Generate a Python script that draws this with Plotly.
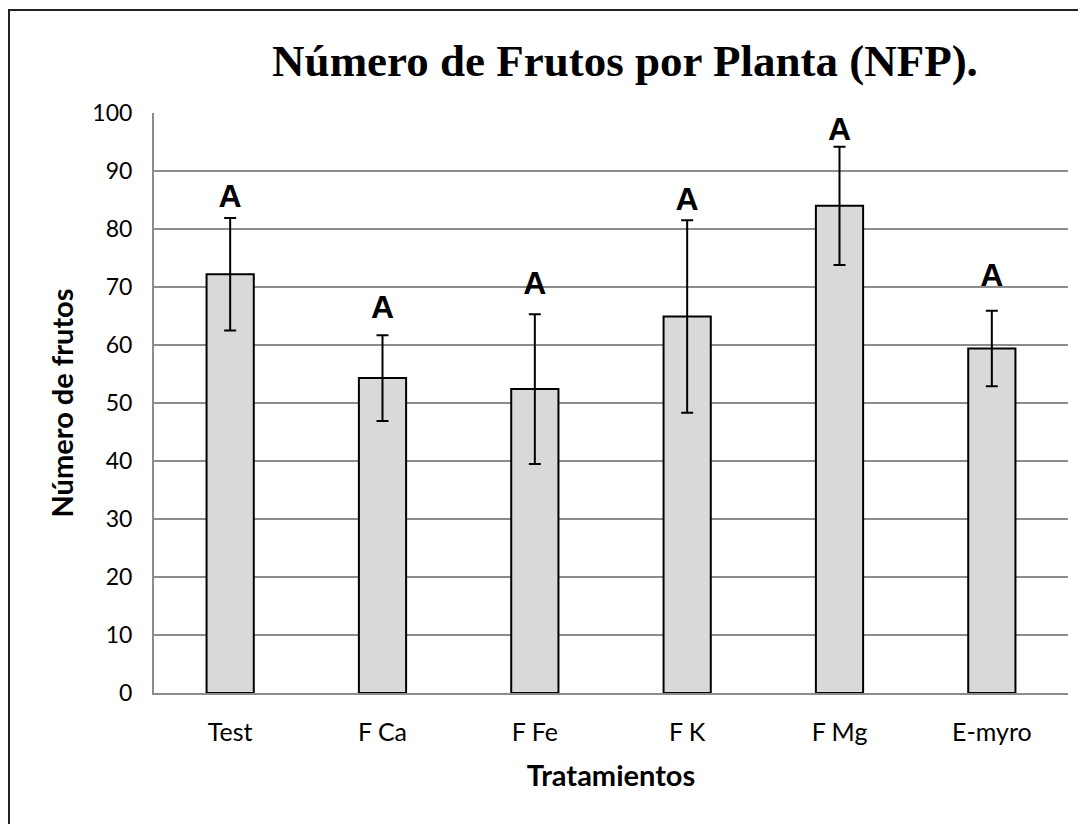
import plotly.graph_objects as go

categories = ["Test", "F Ca", "F Fe", "F K", "F Mg", "E-myro"]
means = [72.2, 54.3, 52.4, 64.9, 84.0, 59.4]
errors = [9.7, 7.4, 12.9, 16.6, 10.2, 6.5]
letters = ["A", "A", "A", "A", "A", "A"]
letter_y = [85.2, 66.0, 70.2, 84.7, 96.8, 71.5]
y_ticks = [0, 10, 20, 30, 40, 50, 60, 70, 80, 90, 100]

W, H = 1086, 824
ml, mr, mt, mb = 146, 26, 105, 139
pw, ph = W - ml - mr, H - mt - mb

def px_x(x):
    return (x - ml) / pw

def px_y(y):
    return (H - mb - y) / ph

sans = "Lato, 'Open Sans', sans-serif"

fig = go.Figure()
fig.add_trace(go.Bar(
    x=categories, y=means,
    marker=dict(color="#d9d9d9", line=dict(color="#000000", width=2)),
    width=0.31,
    error_y=dict(type="data", array=errors, visible=True, color="#000000", thickness=2, width=6),
    showlegend=False,
))
fig.add_trace(go.Scatter(
    x=categories, y=letter_y, mode="text", text=letters,
    textfont=dict(family="'Liberation Sans', Arial, sans-serif", size=32, color="#000000"),
    texttemplate="<b>%{text}</b>",
    showlegend=False, hoverinfo="skip",
))

fig.update_layout(
    width=W, height=H,
    margin=dict(l=ml, r=mr, t=mt, b=mb),
    paper_bgcolor="white", plot_bgcolor="white",
    title=dict(text="<b>Número de Frutos por Planta (NFP).</b>",
               font=dict(family="'Liberation Serif', 'Times New Roman', serif", size=45, color="#000000"),
               x=617 / W, xref="container", xanchor="center",
               y=1 - 52 / H, yref="container", yanchor="middle"),
    xaxis=dict(showgrid=False, showline=True, linecolor="#8c8c8c", linewidth=2,
               ticks="", tickfont=dict(family=sans, size=25, color="#000000"), ticklabelstandoff=16,
               title=dict(text="<b>Tratamientos</b>", font=dict(family=sans, size=29, color="#000000"), standoff=21)),
    yaxis=dict(range=[0, 100], tickvals=y_ticks, showgrid=True, gridcolor="#8c8c8c", gridwidth=2,
               showline=True, linecolor="#8c8c8c", linewidth=2, ticks="",
               tickfont=dict(family=sans, size=23, color="#000000"), ticklabelstandoff=15,
               title=dict(text="<b>Número de frutos</b>", font=dict(family=sans, size=29, color="#000000"), standoff=10),
               zeroline=False),
    shapes=[dict(type="rect", xref="paper", yref="paper",
                 x0=px_x(1), x1=px_x(1100), y0=px_y(840), y1=px_y(2),
                 line=dict(color="#222222", width=2), fillcolor="rgba(0,0,0,0)", layer="below")],
)

fig.write_html("out.html")
